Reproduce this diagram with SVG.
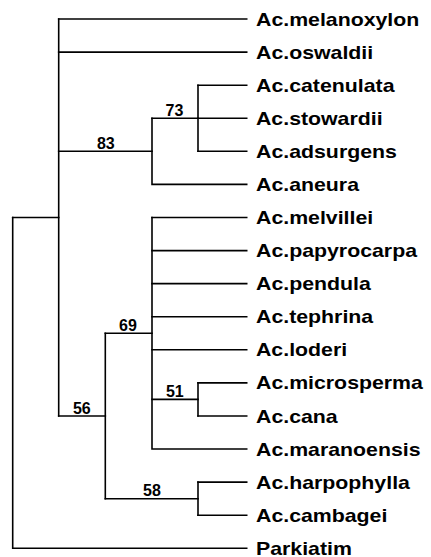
<svg xmlns="http://www.w3.org/2000/svg" width="431" height="557" viewBox="0 0 431 557">
<style>
.e{stroke:#000;stroke-width:1.6;fill:none;stroke-linecap:square}
.t{font-family:"Liberation Sans",Arial,sans-serif;font-weight:bold;font-size:19px;fill:#000}
.b{font-family:"Liberation Sans",Arial,sans-serif;font-weight:bold;font-size:16px;fill:#000;text-anchor:middle}
</style>
<rect width="431" height="557" fill="#fff"/>
<g id="connectors">
<path class="e" d="M12.7,217.5V548.3H246.7"/>
<path class="e" d="M12.7,217.5H58.7"/>
<path class="e" d="M58.7,19V416"/>
<path class="e" d="M58.7,19H246.7"/>
<path class="e" d="M58.7,52.1H246.7"/>
<path class="e" d="M58.7,151.3H152"/>
<path class="e" d="M152,118.2V184.4H246.7"/>
<path class="e" d="M152,118.2H198"/>
<path class="e" d="M198,85.2V151.3"/>
<path class="e" d="M198,85.2H246.7"/>
<path class="e" d="M198,118.2H246.7"/>
<path class="e" d="M198,151.3H246.7"/>
<path class="e" d="M58.7,416H105.3"/>
<path class="e" d="M105.3,333.3V498.7"/>
<path class="e" d="M105.3,333.3H152"/>
<path class="e" d="M152,217.5V449H246.7"/>
<path class="e" d="M152,217.5H246.7"/>
<path class="e" d="M152,250.6H246.7"/>
<path class="e" d="M152,283.6H246.7"/>
<path class="e" d="M152,316.7H246.7"/>
<path class="e" d="M152,349.8H246.7"/>
<path class="e" d="M152,399.4H198"/>
<path class="e" d="M198,382.9V416"/>
<path class="e" d="M198,382.9H246.7"/>
<path class="e" d="M198,416H246.7"/>
<path class="e" d="M105.3,498.7H198"/>
<path class="e" d="M198,482.1V515.2"/>
<path class="e" d="M198,482.1H246.7"/>
<path class="e" d="M198,515.2H246.7"/>
</g>
<g id="support">
<text class="b" x="105.8" y="148.8">83</text>
<text class="b" x="174.5" y="115.7">73</text>
<text class="b" x="128" y="330.8">69</text>
<text class="b" x="174.8" y="396.9">51</text>
<text class="b" x="81.8" y="413.5">56</text>
<text class="b" x="152" y="496.2">58</text>
</g>
<g id="n-melanoxylon"><text class="t" x="256" y="25.5" textLength="163.3" lengthAdjust="spacingAndGlyphs">Ac.melanoxylon</text></g>
<g id="n-oswaldii"><text class="t" x="256" y="58.6" textLength="117.2" lengthAdjust="spacingAndGlyphs">Ac.oswaldii</text></g>
<g id="n-catenulata"><text class="t" x="256" y="91.7" textLength="138.5" lengthAdjust="spacingAndGlyphs">Ac.catenulata</text></g>
<g id="n-stowardii"><text class="t" x="256" y="124.7" textLength="126.6" lengthAdjust="spacingAndGlyphs">Ac.stowardii</text></g>
<g id="n-adsurgens"><text class="t" x="256" y="157.8" textLength="140.9" lengthAdjust="spacingAndGlyphs">Ac.adsurgens</text></g>
<g id="n-aneura"><text class="t" x="256" y="190.9" textLength="103" lengthAdjust="spacingAndGlyphs">Ac.aneura</text></g>
<g id="n-melvillei"><text class="t" x="256" y="224" textLength="117.2" lengthAdjust="spacingAndGlyphs">Ac.melvillei</text></g>
<g id="n-papyrocarpa"><text class="t" x="256" y="257.1" textLength="161" lengthAdjust="spacingAndGlyphs">Ac.papyrocarpa</text></g>
<g id="n-pendula"><text class="t" x="256" y="290.1" textLength="114.8" lengthAdjust="spacingAndGlyphs">Ac.pendula</text></g>
<g id="n-tephrina"><text class="t" x="256" y="323.2" textLength="117.2" lengthAdjust="spacingAndGlyphs">Ac.tephrina</text></g>
<g id="n-loderi"><text class="t" x="256" y="356.3" textLength="91.1" lengthAdjust="spacingAndGlyphs">Ac.loderi</text></g>
<g id="n-microsperma"><text class="t" x="256" y="389.4" textLength="166.9" lengthAdjust="spacingAndGlyphs">Ac.microsperma</text></g>
<g id="n-cana"><text class="t" x="256" y="422.5" textLength="81.7" lengthAdjust="spacingAndGlyphs">Ac.cana</text></g>
<g id="n-maranoensis"><text class="t" x="256" y="455.5" textLength="164.5" lengthAdjust="spacingAndGlyphs">Ac.maranoensis</text></g>
<g id="n-harpophylla"><text class="t" x="256" y="488.6" textLength="153.9" lengthAdjust="spacingAndGlyphs">Ac.harpophylla</text></g>
<g id="n-cambagei"><text class="t" x="256" y="521.7" textLength="131.4" lengthAdjust="spacingAndGlyphs">Ac.cambagei</text></g>
<g id="n-parkiatim"><text class="t" x="256" y="554.8" textLength="95.9" lengthAdjust="spacingAndGlyphs">Parkiatim</text></g>
</svg>
